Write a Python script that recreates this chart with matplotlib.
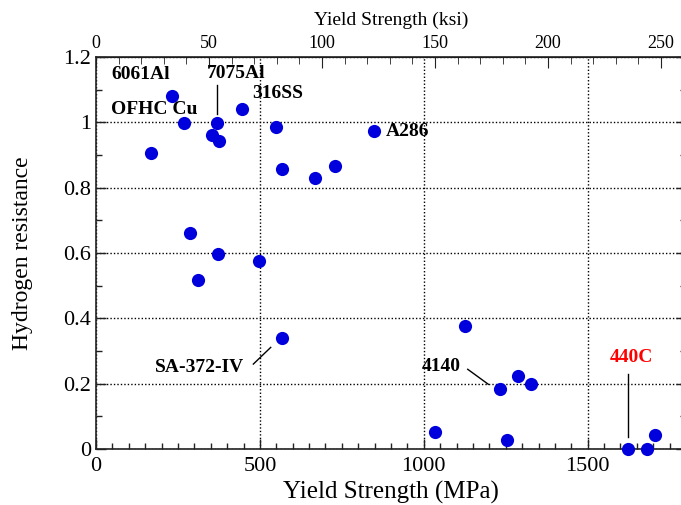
import matplotlib
matplotlib.use('Agg')
import matplotlib.pyplot as plt
from matplotlib.ticker import MultipleLocator, FixedLocator

plt.rcParams['font.family'] = ['Liberation Serif', 'DejaVu Serif']

# data: yield strength (MPa) vs hydrogen resistance
yield_mpa = [168, 231, 269, 287, 311, 353, 368, 374, 372, 444, 497, 548, 567,
             568, 669, 730, 847, 1034, 1126, 1232, 1253, 1288, 1326, 1624,
             1681, 1706]
h_resist = [0.907, 1.081, 0.999, 0.661, 0.517, 0.960, 0.999, 0.944, 0.597,
            1.040, 0.575, 0.986, 0.857, 0.339, 0.829, 0.865, 0.973, 0.052,
            0.377, 0.183, 0.028, 0.223, 0.198, 0.0, 0.0, 0.044]

ksi_ticks = [0, 50, 100, 150, 200, 250]

# label teks material
labels = [
    # (teks, x, y, ha, warna, garis)
    ("6061Al", 137, 1.145, 'center', 'black', None),
    ("OFHC Cu", 177, 1.038, 'center', 'black', None),
    ("7075Al", 427, 1.151, 'center', 'black', ((368, 1.114), (368, 1.027))),
    ("316SS", 555, 1.089, 'center', 'black', None),
    ("A286", 885, 0.973, 'left', 'black', None),
    ("SA-372-IV", 451, 0.248, 'right', 'black', ((480, 0.26), (533, 0.311))),
    ("4140", 1113, 0.252, 'right', 'black', ((1134, 0.244), (1197, 0.198))),
    ("440C", 1632, 0.279, 'center', 'red', ((1624, 0.23), (1624, 0.038))),
]

MPA_PER_KSI = 6.895

fig = plt.figure(figsize=(6.81, 5.05), dpi=100)
ax = fig.add_axes([96 / 681, 56 / 505, (1800 * 0.3278) / 681, 392 / 505])

ax.plot(yield_mpa, h_resist, 'o', color='#0000dd', markersize=9.5,
        markeredgewidth=0, clip_on=False, zorder=5)

ax.set_xlim(0, 1800)
ax.set_ylim(0, 1.2)
ax.xaxis.set_major_locator(MultipleLocator(500))
ax.xaxis.set_minor_locator(MultipleLocator(50))
ax.yaxis.set_minor_locator(MultipleLocator(0.1))
ax.set_yticks([0, 0.2, 0.4, 0.6, 0.8, 1.0, 1.2])
ax.set_yticklabels(['0', '0.2', '0.4', '0.6', '0.8', '1', '1.2'])

ax.tick_params(which='both', direction='in', right=True, labelsize=16,
               width=1, colors='#222222', labelcolor='black')
ax.tick_params(which='major', length=7)
ax.tick_params(which='minor', length=4)
ax.tick_params(axis='x', pad=6)
for s in ax.spines.values():
    s.set_linewidth(1.2)
    s.set_color('#222222')

ax.grid(True, which='major', linestyle=(0, (1, 1.5)), color='black', linewidth=1)

ax.set_xlabel('Yield Strength (MPa)', fontsize=18, labelpad=3)
ax.set_ylabel('Hydrogen resistance', fontsize=17, labelpad=22)

# sumbu atas dalam ksi
top = ax.secondary_xaxis('top', functions=(lambda x: x / MPA_PER_KSI,
                                           lambda k: k * MPA_PER_KSI))
top.xaxis.set_major_locator(FixedLocator(ksi_ticks))
top.xaxis.set_minor_locator(MultipleLocator(10))
top.tick_params(which='both', direction='in', labelsize=13, colors='#222222',
                labelcolor='black')
top.tick_params(which='major', length=8)
top.tick_params(which='minor', length=5)
top.set_xlabel('Yield Strength (ksi)', fontsize=14, labelpad=7)

for teks, x, y, ha, warna, garis in labels:
    ax.text(x, y, teks, ha=ha, va='center', fontsize=14, fontweight='bold',
            color=warna, zorder=6)
    if garis is not None:
        (x0, y0), (x1, y1) = garis
        ax.plot([x0, x1], [y0, y1], color='black', linewidth=1, zorder=4)

fig.savefig('out.png', dpi=100)
